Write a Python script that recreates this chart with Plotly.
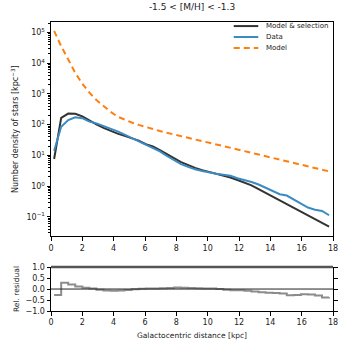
import plotly.graph_objects as go

# galactocentric distance bins [kpc]
r_kpc = [0.2, 0.65, 1.1, 1.55, 2.0, 2.45, 2.9, 3.35, 3.8, 4.25,
         4.7, 5.15, 5.6, 6.05, 6.5, 6.95, 7.4, 7.85, 8.3, 8.75,
         9.2, 9.65, 10.1, 10.55, 11.0, 11.45, 11.9, 12.35, 12.8, 13.25,
         13.7, 14.15, 14.6, 15.05, 15.5, 15.95, 16.4, 16.85, 17.3, 17.75]

# number density of stars [kpc^-3]
model_sel = [7.6, 166, 229, 224, 186, 135, 102, 78, 62, 51,
             43, 36, 30, 23, 19.5, 14.8, 10.7, 8.1, 6.0, 4.7,
             3.9, 3.3, 2.9, 2.5, 2.2, 1.9, 1.58, 1.32, 1.05, 0.79,
             0.59, 0.45, 0.34, 0.26, 0.195, 0.148, 0.112, 0.085, 0.065, 0.048]

data = [14, 85, 141, 174, 162, 126, 110, 91, 74, 60,
        47, 37, 29, 22, 18.2, 13.5, 9.5, 6.9, 5.2, 4.2,
        3.5, 3.1, 2.75, 2.5, 2.35, 2.15, 1.8, 1.58, 1.35, 1.12,
        0.87, 0.68, 0.54, 0.49, 0.36, 0.26, 0.20, 0.17, 0.155, 0.112]

model = [112000, 35500, 13200, 4800, 2140, 1100, 630, 400, 263, 182,
         145, 117, 98, 83, 72, 62, 54, 48, 43, 37.6,
         33, 29.2, 25.7, 22.6, 20, 17.6, 15.5, 13.6, 12.0, 10.6,
         9.3, 8.3, 7.3, 6.5, 5.7, 5.0, 4.4, 3.9, 3.4, 3.0]

# relative residual per bin
residual = [-0.27, 0.29, 0.21, 0.11, 0.06, 0.03, -0.03, -0.07, -0.08, -0.07,
            -0.04, -0.01, 0.01, 0.02, 0.03, 0.04, 0.05, 0.07, 0.06, 0.05,
            0.04, 0.03, 0.02, 0.0, -0.03, -0.05, -0.06, -0.08, -0.11, -0.15,
            -0.17, -0.18, -0.20, -0.28, -0.27, -0.24, -0.25, -0.30, -0.38, -0.37]

x_ticks = [0, 2, 4, 6, 8, 10, 12, 14, 16, 18]
dens_ticks = [0.1, 1, 10, 100, 1000, 10000, 100000]
dens_labels = ["10<sup>−1</sup>", "10<sup>0</sup>", "10<sup>1</sup>", "10<sup>2</sup>",
               "10<sup>3</sup>", "10<sup>4</sup>", "10<sup>5</sup>"]
minor_vals = [m * d for d in [0.01, 0.1, 1, 10, 100, 1000, 10000, 100000] for m in range(2, 10)]
res_ticks = [-1.0, -0.5, 0.0, 0.5, 1.0]

names = ["Model & selection", "Data", "Model"]
colors = ["#333333", "#3b8bc2", "#ff7f0e"]
dashes = ["solid", "solid", "6px,4px"]

fig = go.Figure()

for name, yv, c, d in zip(names, [model_sel, data, model], colors, dashes):
    fig.add_trace(go.Scatter(x=r_kpc, y=yv, mode="lines", name=name, showlegend=False,
                             line=dict(color=c, width=2, dash=d), xaxis="x", yaxis="y"))

# residual panel
fig.add_trace(go.Scatter(x=r_kpc, y=residual, mode="lines", showlegend=False,
                         line=dict(color="#8c8c8c", width=2, shape="hv"), xaxis="x2", yaxis="y2"))

fig.add_shape(type="line", xref="x2 domain", yref="y2", x0=0, x1=1, y0=0, y1=0,
              line=dict(color="#222222", width=1))
fig.add_shape(type="line", xref="x2 domain", yref="y2 domain", x0=0, x1=1, y0=1, y1=1,
              line=dict(color="#555555", width=2.5))

# compact legend box in the top right corner (matplotlib-like spacing)
for i, (name, c, d) in enumerate(zip(names, colors, dashes)):
    ly = 0.981 - i * 0.051
    fig.add_shape(type="line", xref="x domain", yref="y domain", x0=0.648, x1=0.735, y0=ly, y1=ly,
                  line=dict(color=c, width=2, dash=d))
    fig.add_annotation(text=name, xref="x domain", yref="y domain", x=0.755, y=ly,
                       xanchor="left", yanchor="middle", showarrow=False,
                       font=dict(size=7, color="#222222"))

axis_font = dict(family="DejaVu Sans", size=8, color="#222222")

fig.update_layout(
    width=349, height=349,
    margin=dict(l=51, r=11, t=22, b=36),
    paper_bgcolor="white", plot_bgcolor="white",
    font=dict(family="DejaVu Sans", size=8, color="#222222"),
    title=dict(text="-1.5 < [M/H] < -1.3", xref="paper", x=0.5, xanchor="center",
               y=0.99, yanchor="top", font=dict(size=9, color="#222222")),
    xaxis=dict(domain=[0, 1], anchor="y", range=[0, 18], tickvals=x_ticks,
               ticks="outside", ticklen=3.5, tickcolor="black", showline=True, linecolor="black",
               linewidth=1, mirror=True, showgrid=False, zeroline=False, tickfont=axis_font),
    yaxis=dict(domain=[0.258, 1], anchor="x", type="log", range=[-1.64, 5.34],
               tickmode="array", tickvals=dens_ticks, ticktext=dens_labels,
               ticks="outside", ticklen=3.5, tickcolor="black", showline=True, linecolor="black",
               linewidth=1, mirror=True, showgrid=False, zeroline=False, tickfont=axis_font,
               minor=dict(tickmode="array", tickvals=minor_vals, ticks="outside", ticklen=2,
                          tickcolor="black", showgrid=False),
               title=dict(text="Number density of stars [kpc<sup>−3</sup>]", standoff=6,
                          font=dict(size=8))),
    xaxis2=dict(domain=[0, 1], anchor="y2", range=[0, 18], tickvals=x_ticks,
                ticks="outside", ticklen=3.5, tickcolor="black", showline=True, linecolor="black",
                linewidth=1, showgrid=False, zeroline=False, tickfont=axis_font,
                title=dict(text="Galactocentric distance [kpc]", standoff=6, font=dict(size=7.5))),
    yaxis2=dict(domain=[0, 0.152], anchor="x2", range=[-1.0, 1.0], tickvals=res_ticks,
                tickformat=".1f", ticks="outside", ticklen=3.5, tickcolor="black",
                showline=True, linecolor="black", linewidth=1, mirror="ticks",
                showgrid=False, zeroline=False, tickfont=axis_font,
                title=dict(text="Rel. residual", standoff=4, font=dict(size=7.5))),
)

# page has a default body margin, drop it so the figure sits at the window origin
fig.write_html("out.html", config={"displayModeBar": False},
               post_script="document.body.style.margin='0';")
